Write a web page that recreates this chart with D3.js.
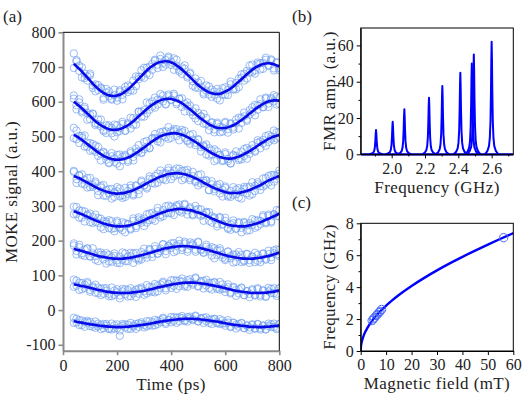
<!DOCTYPE html>
<html><head><meta charset="utf-8">
<script src="https://cdn.jsdelivr.net/npm/d3@7"></script>
<style>
body{margin:0;background:#fff}
svg text{font-family:"Liberation Serif","DejaVu Serif","Times New Roman",serif;fill:#222}
</style>
</head><body>
<svg id="chart" width="532" height="402"></svg>
<script>
// ---------- Panel (a): MOKE traces ----------
const timePs = [40,50,60,70,80,90,100,110,120,130,140,150,160,170,180,190,200,210,220,230,240,250,260,270,280,290,300,310,320,330,340,350,360,370,380,390,400,410,420,430,440,450,460,470,480,490,500,510,520,530,540,550,560,570,580,590,600,610,620,630,640,650,660,670,680,690,700,710,720,730,740,750,760,770,780,790,800];

const fitTrace7 = [709,702,695,687,678,669,661,652,644,637,631,625,621,618,617,616,618,620,624,629,635,642,650,658,666,674,682,690,697,703,708,712,715,716,717,716,713,710,705,699,693,686,678,671,663,655,648,642,636,631,627,624,623,622,623,625,629,633,638,644,651,658,665,672,679,686,692,698,702,706,709,710,711,710,708,705,701];
const fitTrace6 = [600,594,588,581,573,566,559,551,544,538,532,528,524,521,519,519,519,521,524,528,532,538,544,551,558,565,572,579,585,591,596,601,604,607,608,609,608,606,604,600,596,590,584,578,571,565,558,552,546,540,535,531,527,525,524,524,524,526,529,532,536,542,547,553,559,566,572,578,584,589,594,598,601,603,604,604,603];
const fitTrace5 = [505,500,496,490,484,478,472,466,460,454,449,444,440,437,435,433,433,433,434,436,439,442,447,452,457,463,468,474,480,486,491,496,500,504,506,508,509,510,509,507,505,502,498,494,489,484,479,473,467,462,457,452,448,444,441,439,437,436,436,437,439,442,445,449,453,458,463,468,473,479,484,488,493,497,500,502,504];
const fitTrace4 = [386,383,380,376,371,367,363,358,354,350,347,344,341,339,337,336,335,336,336,338,340,342,345,349,352,356,361,365,369,373,377,381,384,387,390,392,393,394,394,394,393,391,389,386,383,379,376,372,367,363,359,355,351,348,345,342,340,338,337,337,337,337,339,341,343,346,349,353,356,360,364,369,373,376,380,383,386];
const fitTrace3 = [284,282,279,276,272,269,265,262,258,255,252,249,247,245,243,242,241,241,241,242,243,245,247,249,252,255,259,262,266,269,272,276,279,282,284,287,288,290,291,291,291,290,289,288,286,283,281,278,275,271,268,264,261,257,254,251,248,246,244,243,242,241,241,241,242,244,246,248,250,253,256,260,263,267,270,274,277];
const fitTrace2 = [176,174,172,170,168,165,163,161,158,156,154,153,151,150,149,148,148,148,148,149,150,151,152,154,156,158,160,162,164,167,169,172,174,176,178,179,181,182,183,184,184,184,184,183,182,181,180,178,176,174,172,170,167,165,163,160,158,156,154,153,151,150,149,148,148,148,148,149,150,151,152,154,156,158,160,163,165];
const fitTrace1 = [74,73,71,69,68,66,64,62,60,58,57,55,53,52,51,50,50,49,49,49,49,50,51,52,53,54,56,57,59,61,63,65,67,68,70,72,73,75,76,77,78,79,79,79,79,79,78,77,76,75,73,72,70,68,67,65,63,61,59,57,56,54,53,52,51,50,49,49,49,49,50,50,51,52,53,55,57];
const fitTrace0 = [-32,-34,-35,-36,-38,-39,-41,-42,-43,-44,-46,-46,-47,-48,-48,-49,-49,-49,-49,-48,-48,-47,-46,-45,-44,-43,-42,-41,-39,-38,-36,-35,-33,-32,-31,-30,-29,-28,-27,-26,-26,-25,-25,-25,-25,-26,-26,-27,-28,-29,-30,-31,-32,-33,-35,-36,-38,-39,-41,-42,-43,-44,-45,-46,-47,-48,-48,-49,-49,-49,-49,-48,-48,-47,-46,-46,-44];

const residTrace7 = [30,14,-6,12,-10,4,15,-12,6,-3,10,-14,5,12,-8,3,-15,9,-4,14,-7,2,11,-13,6,-2,16,-9,4,-11,13,-5,8,-16,3,10,-7,15,-2,-12,6,9,-8,13,-4,-14,7,2,-10,16,-6,11,-3,-13,5,14,-9,1,12,-7,-15,8,4,-11,10,-2,15,-8,6,-13,3,11,-5,9,-12,7,-4];
const residTrace6 = [18,-4,10,-12,7,2,-9,14,-6,11,-3,-13,8,5,-10,15,-7,3,12,-11,6,-15,9,-2,13,-8,4,-12,10,-5,16,-9,2,11,-14,7,-3,12,-6,9,-11,4,14,-7,1,-13,10,6,-9,13,-4,8,-15,11,3,-10,15,-5,7,-12,2,12,-8,5,-14,9,-1,13,-7,4,-10,14,-6,8,-3,11,-9];
const residTrace5 = [20,-8,6,11,-13,3,9,-5,14,-10,2,12,-7,-14,8,4,-11,15,-3,7,-12,10,-6,13,1,-9,16,-4,-13,8,5,-10,12,-2,9,-15,6,11,-8,3,14,-6,-12,10,2,-9,13,-4,7,-14,9,-3,15,-11,5,-7,12,-1,-13,8,4,-10,11,-5,14,-8,2,-12,9,6,-4,13,-9,3,-11,10,-6];
const residTrace4 = [15,-6,9,-12,4,13,-9,2,16,-7,11,-14,5,-3,12,-10,7,14,-5,-12,3,10,-15,8,-6,17,-2,-11,9,4,-13,12,-7,6,-16,10,1,-9,14,-4,8,-12,15,-6,3,-10,13,-8,5,11,-14,7,-2,12,-9,4,16,-11,6,-5,10,-13,2,14,-7,9,-15,5,12,-3,-8,11,-6,13,-10,4,7];
const residTrace3 = [14,-5,8,-10,12,3,-12,6,-4,10,-14,7,2,-9,13,-6,11,-2,-11,8,4,-13,10,-7,15,-3,5,-10,12,-8,1,9,-12,6,-4,14,-9,3,11,-6,-10,13,-2,8,-13,5,10,-7,-1,12,-11,6,3,-9,14,-5,9,-12,2,7,-8,12,-4,10,-13,6,-1,11,-9,4,13,-7,8,-11,5,-3,10];
const residTrace2 = [16,-4,9,-11,6,12,-8,2,-13,10,5,-7,13,-10,3,8,-12,6,-3,14,-9,4,11,-6,-13,9,1,-11,12,-5,7,-10,3,14,-8,5,-2,11,-12,6,-4,13,-9,2,10,-7,15,-3,-11,8,4,-13,11,-6,9,-1,-10,12,-5,7,-12,3,10,-8,13,-4,6,-11,9,-2,11,-9,5,-6,12,-3,8];
const residTrace1 = [14,-3,8,-9,5,11,-6,2,-10,7,4,-8,10,-5,-11,6,1,-7,12,-4,9,-10,3,7,-6,11,-2,-9,8,5,-12,6,-3,10,-7,2,13,-5,9,-8,4,-11,7,1,-6,12,-9,3,8,-4,-10,6,11,-3,-8,9,-1,5,-11,7,2,-6,10,-9,4,-3,8,-7,11,-5,6,-10,3,9,-4,-8,5];
const residTrace0 = [10,-2,6,-7,4,8,-5,1,-8,5,3,-6,7,-4,-8,5,-3,-25,9,-2,6,-7,2,5,-4,8,-1,-6,7,3,-8,4,-2,7,-5,1,9,-3,6,-6,3,-7,5,1,-4,8,-6,2,6,-3,-7,4,7,-2,-5,6,0,3,-8,5,1,-4,7,-6,3,-2,5,-5,8,-3,4,-7,2,6,-3,-5,3];

const residTrace7b = [-12,18,9,-17,3,-8,20,-5,-14,11,7,-19,16,-2,-11,19,-6,13,-17,4,12,-9,-18,15,-1,17,-13,8,-20,6,10,-15,18,-4,-10,14,2,-18,16,-7,-13,19,-3,9,-17,12,-8,18,-15,1,17,-10,6,15,-19,-5,13,-14,20,-9,3,-16,14,8,-12,18,-6,-17,11,5,-14,17,-8,12,-18,9,-10];
const residTrace6b = [9,-16,19,-7,12,-18,4,15,-11,-3,17,-9,-14,11,6,-19,13,-5,18,-12,2,16,-10,-17,14,7,-15,19,-8,10,-13,5,18,-6,-16,12,-2,17,-11,8,14,-18,3,11,-9,16,-14,6,19,-4,-17,10,-7,15,-12,2,18,-15,9,-6,13,-19,7,16,-10,-3,12,-17,5,18,-9,11,-16,4,15,-12,8];
const residTrace5b = [-10,17,-15,6,19,-8,-13,12,-4,16,-18,9,3,-12,17,-6,14,-19,8,11,-7,15,-16,2,18,-11,-5,13,-14,9,16,-3,-17,10,-8,19,-13,5,12,-18,7,14,-9,-15,18,-2,11,-16,4,15,-12,8,-19,13,6,-10,17,-7,-14,10,18,-5,-11,15,-17,3,12,-9,16,-13,6,-15,11,-4,17,-8,9];
const residTrace4b = [12,-17,7,15,-9,-14,18,-3,11,-19,6,16,-12,9,-16,3,19,-8,-13,14,-5,17,-11,10,-18,13,-2,-15,16,-7,9,-14,18,-10,4,17,-16,8,-4,13,-19,11,6,-12,15,-7,-17,19,-1,10,-13,16,-9,5,18,-15,12,-6,-11,17,-3,14,-18,8,11,-16,19,-10,6,-14,15,-8,13,-17,9,-5,16];
const residTrace3b = [-8,15,-13,10,-17,6,13,-11,17,-4,11,-16,8,14,-9,-15,16,-6,12,-18,5,-10,17,-13,9,3,-17,14,-7,11,-15,18,-5,-12,15,-8,10,-16,7,13,-2,16,-14,4,-10,17,-6,12,-18,9,14,-12,6,-16,11,-3,18,-9,-13,15,-7,10,-17,13,2,-14,16,-11,8,-5,17,-10,12,-15,6,14,-8];
const residTrace2b = [10,-14,16,-6,-12,13,-9,17,-3,-15,12,6,-17,9,-10,15,-5,-13,18,-8,4,14,-16,11,-7,-12,17,-2,9,-14,15,-9,-4,13,-17,7,11,-15,3,16,-11,8,-16,12,5,-13,17,-6,-10,14,-3,11,-18,7,15,-9,-14,13,2,-16,9,17,-11,-5,14,-12,6,16,-8,-13,10,-6,15,-14,4,12,-9];
const residTrace1b = [-7,12,-13,9,-4,15,-11,6,13,-9,-14,8,3,-12,14,-6,10,-15,5,11,-10,13,-3,-14,9,6,-12,15,-5,-8,12,-11,7,14,-13,4,-9,11,-15,8,13,-6,-12,10,-2,15,-10,7,-14,12,5,-13,9,-7,14,-4,-11,13,-8,10,-15,6,12,-9,3,-13,11,-5,14,-10,7,-12,13,-3,10,-14,6];
const residTrace0b = [-5,9,-8,6,-10,3,7,-6,10,-3,-9,6,2,-7,9,-4,8,-10,4,7,-6,10,-2,-9,6,3,-8,9,-4,-7,8,-5,4,10,-9,2,-6,7,-10,5,9,-4,-8,6,-1,10,-7,4,-9,8,3,-9,6,-5,9,-3,-7,10,-6,6,-10,4,8,-6,2,-9,7,-3,9,-7,5,-8,9,-2,7,-9,4];

const fitTraces = [fitTrace0,fitTrace1,fitTrace2,fitTrace3,fitTrace4,fitTrace5,fitTrace6,fitTrace7];
const residTraces = [residTrace0,residTrace1,residTrace2,residTrace3,residTrace4,residTrace5,residTrace6,residTrace7];
const residTracesB = [residTrace0b,residTrace1b,residTrace2b,residTrace3b,residTrace4b,residTrace5b,residTrace6b,residTrace7b];

const aYTicks = [-100,0,100,200,300,400,500,600,700,800];
const aXTicks = [0,200,400,600,800];

// ---------- Panel (b): FMR spectrum ----------
const peakFreqGHz = [1.906,2.006,2.076,2.224,2.304,2.412,2.481,2.493,2.600];
const peakAmp = [13.4,17.9,24.8,31.2,37.6,44.9,50,55,62];
const shapeOffsetGHz = [-0.04,-0.025,-0.016,-0.011,-0.007,-0.004,-0.002,0,0.002,0.004,0.007,0.011,0.016,0.025,0.04];
const shapeFraction = [0,0.031,0.073,0.143,0.292,0.559,0.835,1,0.835,0.559,0.292,0.143,0.073,0.031,0];
const bYTicks = [0,20,40,60], bYMinor = [10,30,50];
const bXTicks = [2.0,2.2,2.4,2.6], bXMinor = [1.9,2.1,2.3,2.5,2.7];

// ---------- Panel (c): Kittel fit ----------
const fieldCurve = [0,0.1,0.25,0.5,1,2,3,4,5,6,7,8,10,12,15,20,25,30,35,40,45,50,55,60];
const freqCurve = [0,0.281,0.445,0.629,0.890,1.261,1.546,1.787,2.001,2.195,2.373,2.540,2.847,3.126,3.508,4.075,4.582,5.049,5.486,5.898,6.290,6.667,7.031,7.384];
const fieldMeas = [4.5,5.0,5.4,6.1,6.6,7.2,7.6,8.2,56.2];
const freqMeas = [1.91,2.01,2.08,2.22,2.30,2.41,2.48,2.60,7.10];
const cYTicks = [0,2,4,6,8], cYMinor = [1,3,5,7];
const cXTicks = [0,10,20,30,40,50,60];

const svg = d3.select("#chart");
const BLUE = "#0000ff";
const FONT = "Liberation Serif, DejaVu Serif, serif";
const fmt = d => String(d);

// ===== Panel (a) =====
const xA = d3.scaleLinear().domain([0,800]).range([63,279.3]);
const yA = d3.scaleLinear().domain([-117,800]).range([350.7,32.3]);
svg.append("clipPath").attr("id","clipA").append("rect")
  .attr("x",xA.range()[0]).attr("y",yA.range()[1])
  .attr("width",xA.range()[1]-xA.range()[0]).attr("height",yA.range()[0]-yA.range()[1]);
const gA = svg.append("g").attr("clip-path","url(#clipA)");
fitTraces.forEach((fit,k) => {
  [residTraces[k], residTracesB[k]].forEach(res => {
    gA.append("g").selectAll("circle").data(timePs).join("circle")
      .attr("cx",(t)=>xA(t)).attr("cy",(t,i)=>yA(fit[i]+res[i])).attr("r",3.7)
      .attr("fill","none").attr("stroke","#6b9cf0").attr("stroke-opacity",0.8).attr("stroke-width",0.85);
  });
});
fitTraces.forEach((fit) => {
  gA.append("path").datum(timePs)
    .attr("d", d3.line().x(t=>xA(t)).y((t,i)=>yA(fit[i])).curve(d3.curveBasis))
    .attr("fill","none").attr("stroke","#0a0ae6").attr("stroke-width",2.6);
});
const axA_y = svg.append("g").attr("transform",`translate(${xA.range()[0]},0)`)
  .call(d3.axisLeft(yA).tickValues(aYTicks).tickFormat(fmt).tickSize(4.5).tickSizeOuter(0).tickPadding(3));
const axA_x = svg.append("g").attr("transform",`translate(0,${yA.range()[0]})`)
  .call(d3.axisBottom(xA).tickValues(aXTicks).tickFormat(fmt).tickSize(4.5).tickSizeOuter(0).tickPadding(4));
[axA_y,axA_x].forEach(g=>{
  g.select(".domain").attr("stroke","#8a8a8a").attr("stroke-width",2);
  g.selectAll(".tick line").attr("stroke","#8a8a8a").attr("stroke-width",1.6);
  g.selectAll(".tick text").attr("font-size",16).attr("fill","#222").attr("font-family",FONT);
});
svg.append("line").attr("x1",xA.range()[0]).attr("x2",xA.range()[1]).attr("y1",yA.range()[1]).attr("y2",yA.range()[1]).attr("stroke","#000").attr("stroke-width",1);
svg.append("line").attr("x1",xA.range()[1]).attr("x2",xA.range()[1]).attr("y1",yA.range()[1]).attr("y2",yA.range()[0]).attr("stroke","#000").attr("stroke-width",1);
function label(x,y,txt,rot,anchor){
  const t = svg.append("text").attr("font-size",17).attr("font-family",FONT).attr("letter-spacing",0.4)
    .attr("text-anchor",anchor||"middle").text(txt);
  if(rot) t.attr("transform",`translate(${x},${y}) rotate(-90)`); else t.attr("x",x).attr("y",y);
  return t;
}
label(171,390,"Time (ps)");
label(17,192,"MOKE signal (a.u.)",true);
label(3,22,"(a)",false,"start").attr("letter-spacing",0);

// ===== shared axes frame helper =====
function axesFrame(x,y,yT,yMin,xT,xMin,xf,yf){
  const gy = svg.append("g").attr("transform",`translate(${x.range()[0]},0)`)
    .call(d3.axisLeft(y).tickValues(yT).tickFormat(yf).tickSize(4).tickSizeOuter(0).tickPadding(3));
  const gx = svg.append("g").attr("transform",`translate(0,${y.range()[0]})`)
    .call(d3.axisBottom(x).tickValues(xT).tickFormat(xf).tickSize(4).tickSizeOuter(0).tickPadding(4));
  if(yMin) svg.append("g").attr("transform",`translate(${x.range()[0]},0)`).call(d3.axisLeft(y).tickValues(yMin).tickFormat("").tickSize(2.2).tickSizeOuter(0)).select(".domain").remove();
  if(xMin) svg.append("g").attr("transform",`translate(0,${y.range()[0]})`).call(d3.axisBottom(x).tickValues(xMin).tickFormat("").tickSize(2.2).tickSizeOuter(0)).select(".domain").remove();
  [gy,gx].forEach(g=>{
    g.select(".domain").attr("stroke","#000").attr("stroke-width",1);
    g.selectAll(".tick text").attr("font-size",16).attr("fill","#222").attr("font-family",FONT);
  });
  svg.append("rect").attr("x",x.range()[0]).attr("y",y.range()[1]).attr("width",x.range()[1]-x.range()[0]).attr("height",y.range()[0]-y.range()[1])
    .attr("fill","none").attr("stroke","#000").attr("stroke-width",1);
}

// ===== Panel (b) =====
const xB = d3.scaleLinear().domain([1.814,2.73]).range([360.7,513.3]);
const yB = d3.scaleLinear().domain([0,69.6]).range([154.3,28]);
svg.append("clipPath").attr("id","clipB").append("rect")
  .attr("x",xB.range()[0]).attr("y",yB.range()[1]-2)
  .attr("width",xB.range()[1]-xB.range()[0]).attr("height",yB.range()[0]-yB.range()[1]+4);
const gB = svg.append("g").attr("clip-path","url(#clipB)");
gB.append("path").datum(xB.domain())
  .attr("d", d3.line().x(f=>xB(f)).y(()=>yB(0)))
  .attr("stroke",BLUE).attr("stroke-width",2.2).attr("fill","none");
peakFreqGHz.forEach((c,p)=>{
  gB.append("path").datum(shapeOffsetGHz)
    .attr("d", d3.line().x(o=>xB(c+o)).y((o,j)=>yB(peakAmp[p]*shapeFraction[j])))
    .attr("stroke",BLUE).attr("stroke-width",2).attr("fill","none").attr("stroke-linejoin","round");
});
axesFrame(xB,yB,bYTicks,bYMinor,bXTicks,bXMinor,d3.format(".1f"),fmt);
label(437,193,"Frequency (GHz)");
label(335,91,"FMR amp. (a.u.)",true);
label(292,22,"(b)",false,"start").attr("letter-spacing",0);

// ===== Panel (c) =====
const xC = d3.scaleLinear().domain([0,60]).range([360.7,513.3]);
const yC = d3.scaleLinear().domain([0,8]).range([351,223.3]);
svg.append("clipPath").attr("id","clipC").append("rect")
  .attr("x",xC.range()[0]).attr("y",yC.range()[1])
  .attr("width",xC.range()[1]-xC.range()[0]).attr("height",yC.range()[0]-yC.range()[1]);
const gC = svg.append("g").attr("clip-path","url(#clipC)");
gC.append("path").datum(fieldCurve)
  .attr("d", d3.line().x(h=>xC(h)).y((h,i)=>yC(freqCurve[i])).curve(d3.curveMonotoneX))
  .attr("stroke",BLUE).attr("stroke-width",2.4).attr("fill","none");
gC.append("g").selectAll("circle").data(fieldMeas).join("circle")
  .attr("cx",h=>xC(h)).attr("cy",(h,i)=>yC(freqMeas[i])).attr("r",4.2)
  .attr("fill","none").attr("stroke","#4a6cf5").attr("stroke-width",1);
axesFrame(xC,yC,cYTicks,cYMinor,cXTicks,null,fmt,fmt);
label(437,389,"Magnetic field (mT)");
label(335,287,"Frequency (GHz)",true);
label(292,208,"(c)",false,"start").attr("letter-spacing",0);
</script>
</body></html>
